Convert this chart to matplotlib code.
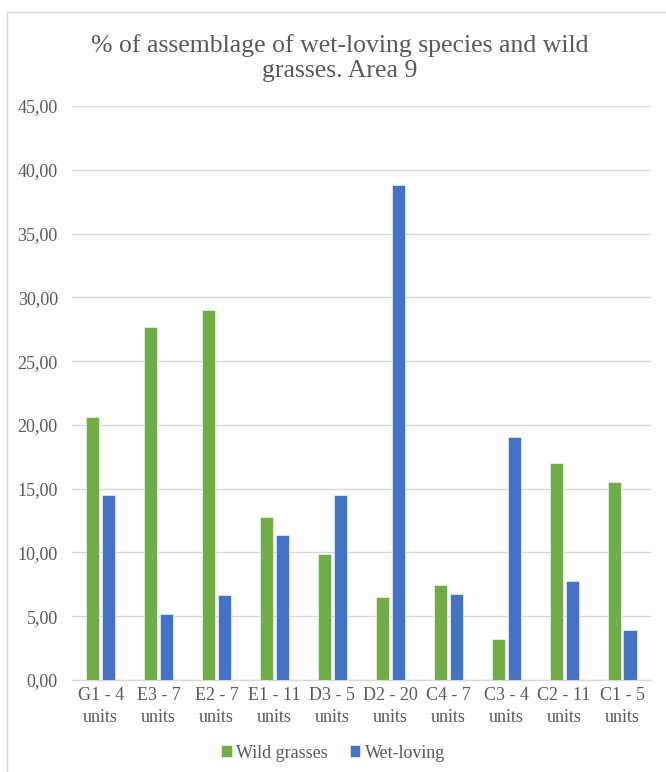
import numpy as np
import matplotlib
matplotlib.use('Agg')
import matplotlib.pyplot as plt
import matplotlib.patches as patch
from matplotlib.ticker import FuncFormatter

plt.rcParams['font.family'] = ['Liberation Serif', 'DejaVu Serif']

# assemblage percentages per sample
samples = ['G1 - 4\nunits', 'E3 - 7\nunits', 'E2 - 7\nunits', 'E1 - 11\nunits',
           'D3 - 5\nunits', 'D2 - 20\nunits', 'C4 - 7\nunits', 'C3 - 4\nunits',
           'C2 - 11\nunits', 'C1 - 5\nunits']
wild_grasses = [20.65, 27.66, 29.02, 12.76, 9.91, 6.51, 7.42, 3.22, 17.02, 15.50]
wet_loving = [14.54, 5.15, 6.64, 11.40, 14.54, 38.80, 6.72, 19.06, 7.76, 3.90]

green = '#70AD47'
blue = '#4472C4'
txt = '#595959'
grid = '#D9D9D9'

fig = plt.figure(figsize=(6.66, 7.72), dpi=100)
ax = fig.add_axes([0.1077, 0.1192, 0.8698, 0.7435])

# chart area border
fig.patches.append(patch.Rectangle((7 / 666, -0.01), 1.0, 1 - 12 / 772 + 0.01,
                                   transform=fig.transFigure, fill=False,
                                   edgecolor='#D9D9D9', linewidth=1.0))

x = np.arange(len(samples))
w = 0.225
ax.bar(x - 0.025 - w / 2, wild_grasses, w, color=green, edgecolor='white',
       linewidth=0.4, label='Wild grasses', zorder=3)
ax.bar(x + 0.025 + w / 2, wet_loving, w, color=blue, edgecolor='white',
       linewidth=0.4, label='Wet-loving', zorder=3)

ax.set_xlim(-0.5, len(samples) - 0.5)
ax.set_ylim(0, 45)
ax.set_yticks(np.arange(0, 46, 5))
ax.yaxis.set_major_formatter(FuncFormatter(lambda v, p: f'{v:.2f}'.replace('.', ',')))
ax.set_xticks(x)
ax.set_xticklabels(samples, linespacing=1.4)

ax.grid(axis='y', color=grid, linewidth=1.0, zorder=0)
for s in ['top', 'right', 'left']:
    ax.spines[s].set_visible(False)
ax.spines['bottom'].set_color(grid)
ax.spines['bottom'].set_linewidth(1.0)
ax.tick_params(axis='both', length=0, labelsize=13, labelcolor=txt)
ax.tick_params(axis='y', pad=10)
ax.tick_params(axis='x', pad=5)

fig.text(340 / 666, 1 - 58 / 772,
         '% of assemblage of wet-loving species and wild\ngrasses. Area 9',
         ha='center', va='center', fontsize=18.5, color=txt, linespacing=1.15)

ax.legend(loc='center', bbox_to_anchor=(333 / 666, 1 - 753 / 772),
          bbox_transform=fig.transFigure, ncol=2, frameon=False,
          fontsize=13, labelcolor=txt, handlelength=0.6, handleheight=0.6,
          handletextpad=0.25, columnspacing=1.2)

fig.savefig('out.png', dpi=100)
